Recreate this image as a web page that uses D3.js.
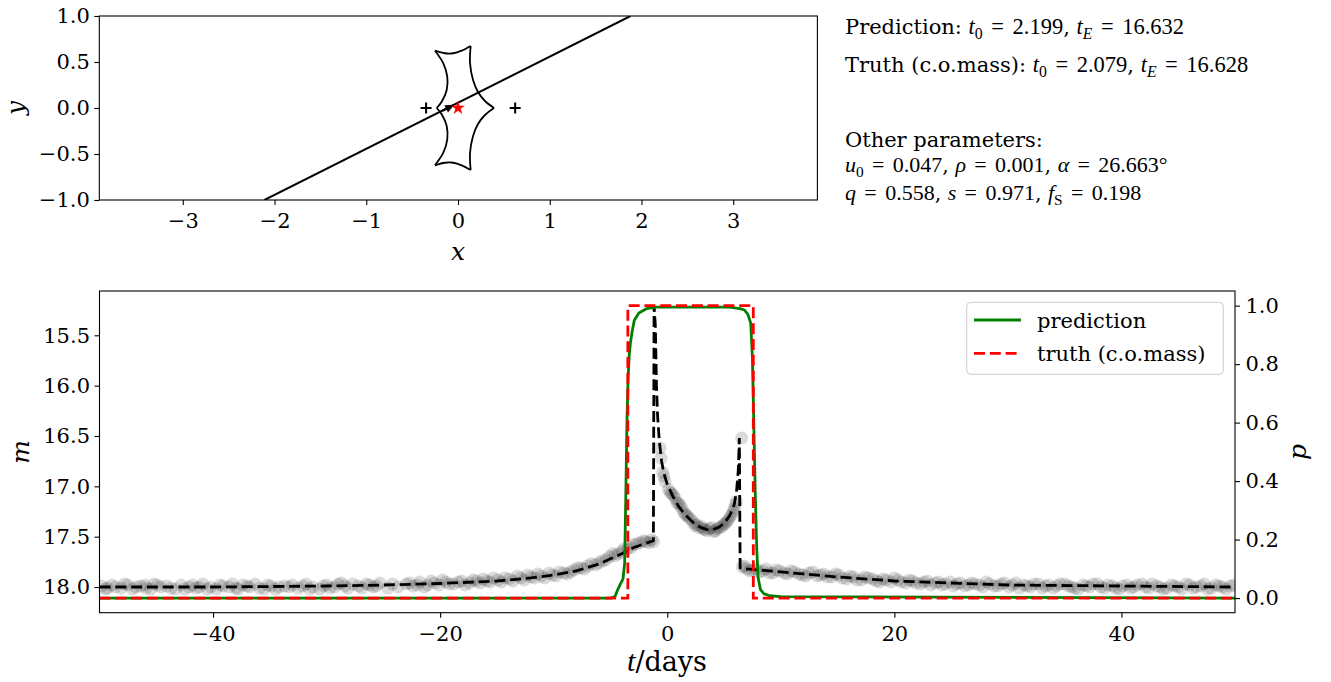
<!DOCTYPE html>
<html>
<head>
<meta charset="utf-8">
<script src="https://cdn.jsdelivr.net/npm/d3@7"></script>
<style>
body { margin: 0; background: #fff; }
svg text { font-family: "DejaVu Serif", serif; fill: #000; }
</style>
</head>
<body>
<svg id="chart" width="1331" height="682"></svg>
<script>
// ---- data ----
// source plane (top panel)
const lensX = [-0.348, 0.623];
const lensY = [0, 0];
const sourceX = [0.0];
const sourceY = [0.0];
const trajX = [-2.11, 1.88];
const trajY = [-1.0, 1.0];
const arrowX = [-0.17, -0.05];
const arrowY = [-0.03, 0.03];
// caustic folds, cusp to cusp
const foldTop = [[-0.251,0.623],[-0.142,0.595],[-0.051,0.595],[0.040,0.623],[0.138,0.674]];
const foldUpRight = [[0.138,0.674],[0.131,0.489],[0.164,0.304],[0.218,0.174],[0.294,0.076],[0.393,0]];
const foldLowRight = [[0.393,0],[0.294,-0.076],[0.218,-0.174],[0.164,-0.304],[0.131,-0.489],[0.138,-0.674]];
const foldBottom = [[0.138,-0.674],[0.040,-0.623],[-0.051,-0.595],[-0.142,-0.595],[-0.251,-0.623]];
const foldLowLeft = [[-0.251,-0.623],[-0.160,-0.486],[-0.117,-0.340],[-0.123,-0.196],[-0.178,-0.068],[-0.232,0]];
const foldUpLeft = [[-0.232,0],[-0.178,0.068],[-0.123,0.196],[-0.117,0.340],[-0.160,0.486],[-0.251,0.623]];

// light curve (bottom panel)
const modelT = [-50,-40,-30,-25,-20,-15,-12,-10,-8,-6,-5,-4,-3,-2,-1.22,-1.16,-1.05,-0.95,-0.85,-0.7,-0.5,-0.3,0,0.5,1,1.5,2,2.5,3,3.5,4,4.5,5,5.5,5.9,6.1,6.25,6.35,6.42,7,8,10,12,15,20,25,30,40,50];
const modelM = [18.0,18.0,17.99,17.98,17.965,17.94,17.91,17.88,17.84,17.77,17.72,17.67,17.61,17.57,17.54,15.21,15.4,16.0,16.3,16.55,16.75,16.87,16.98,17.1,17.2,17.27,17.33,17.38,17.41,17.43,17.43,17.41,17.37,17.29,17.18,17.05,16.85,16.52,17.81,17.82,17.83,17.85,17.87,17.9,17.94,17.96,17.98,17.99,18.0];

const obs = [
  [-49.8,17.99],[-49.3,18.01],[-48.6,18.00],[-47.5,17.98],[-47.1,18.02],[-46.4,17.99],[-45.9,18.01],[-45.2,17.97],
  [-44.6,18.00],[-43.3,18.02],[-42.8,17.98],[-42.1,18.00],[-41.5,18.01],[-40.9,17.97],[-40.2,18.00],[-39.7,18.02],
  [-39.1,17.99],[-38.0,18.01],[-37.4,17.98],[-36.8,18.00],[-36.3,17.97],[-35.5,18.02],[-34.9,17.99],[-34.2,18.00],
  [-33.0,17.98],[-32.5,18.01],[-31.8,17.97],[-31.2,18.00],[-30.6,18.02],[-30.0,17.98],[-29.3,18.00],[-28.7,17.96],
  [-28.1,18.01],[-27.2,17.99],[-26.5,17.97],[-25.9,18.00],[-25.3,17.96],[-24.6,18.01],[-23.0,17.97],[-22.4,17.99],
  [-21.8,17.95],[-21.1,17.98],[-20.5,17.96],[-19.8,17.93],[-19.2,17.97],[-18.4,17.95],[-17.8,17.98],[-17.1,17.93],
  [-16.5,17.96],[-15.9,17.94],[-15.3,17.91],[-14.6,17.95],[-13.9,17.92],[-13.2,17.89],[-12.6,17.93],[-12.0,17.90],
  [-11.4,17.87],[-10.8,17.91],[-10.1,17.88],[-9.5,17.85],[-8.8,17.87],[-8.2,17.83],[-7.6,17.81],[-7.0,17.79],
  [-6.3,17.78],[-5.7,17.74],[-5.1,17.70],[-4.6,17.69],[-4.0,17.65],[-3.5,17.62],[-3.0,17.58],[-2.4,17.56],
  [-1.9,17.55],[-1.4,17.53],[-1.2,17.55],
  [-49.5,18.02],[-48.9,17.98],[-48.1,18.01],[-47.8,17.97],[-46.8,18.00],[-46.0,17.98],[-45.5,18.02],[-44.9,17.98],
  [-44.1,17.99],[-43.7,18.01],[-42.5,18.02],[-41.8,17.98],[-41.2,18.00],[-40.5,18.02],[-39.4,17.98],[-38.6,18.00],
  [-38.3,17.97],[-37.8,18.02],[-37.0,17.99],[-35.9,18.01],[-35.2,17.98],[-34.5,18.02],[-33.7,17.99],[-33.3,18.00],
  [-32.1,17.99],[-31.5,18.02],[-30.3,17.99],[-29.7,18.01],[-29.0,17.97],[-28.4,17.99],[-27.7,17.97],[-26.9,18.01],
  [-26.2,17.98],[-25.6,17.99],[-24.2,17.97],[-23.7,18.00],[-22.7,17.96],[-22.0,17.98],[-21.4,18.00],[-20.8,17.94],
  [-20.1,17.98],[-19.5,17.95],[-18.8,17.97],[-18.1,17.94],[-17.4,17.96],[-16.8,17.94],[-16.2,17.92],[-15.6,17.95],
  [-14.9,17.93],[-14.3,17.91],[-13.6,17.94],[-12.9,17.91],[-12.3,17.88],[-11.7,17.91],[-11.1,17.89],[-10.4,17.86],
  [-9.8,17.89],[-9.1,17.86],[-8.5,17.85],[-7.9,17.81],[-7.3,17.82],[-6.7,17.77],[-6.0,17.76],[-5.4,17.73],
  [-4.8,17.67],[-4.3,17.67],[-3.8,17.62],[-3.2,17.61],[-2.7,17.57],[-2.1,17.54],[-1.6,17.56],
  [-0.65,16.62],[-0.4,16.86],[-0.2,16.95],[0.1,17.03],[0.4,17.07],[0.7,17.12],[1.0,17.17],[1.3,17.22],
  [1.6,17.28],[1.9,17.31],[2.3,17.36],[2.6,17.38],[3.0,17.40],[3.3,17.43],[3.7,17.42],[4.1,17.45],
  [4.4,17.42],[4.8,17.40],[5.1,17.37],[5.4,17.33],[5.7,17.28],[5.9,17.22],[6.1,17.15],[6.55,16.52],
  [-0.55,16.72],[-0.3,16.90],[0.25,17.06],[0.55,17.09],[0.85,17.16],[1.15,17.19],[1.45,17.26],[1.75,17.29],
  [2.1,17.33],[2.45,17.39],[2.8,17.41],[3.15,17.42],[3.5,17.44],[3.9,17.41],[4.25,17.44],[4.6,17.41],
  [4.95,17.38],[5.25,17.35],[5.55,17.30],[5.8,17.25],[6.0,17.18],
  [6.6,17.80],[7.0,17.82],[7.5,17.83],[8.1,17.85],[8.7,17.82],[9.3,17.86],[9.9,17.84],[10.6,17.87],
  [11.2,17.85],[11.9,17.88],[12.5,17.86],[13.2,17.89],[13.8,17.87],[14.5,17.90],[15.1,17.88],[15.8,17.92],
  [16.4,17.90],[17.1,17.93],[17.7,17.91],[18.4,17.94],[19.0,17.92],[19.7,17.95],[20.3,17.93],[21.0,17.96],
  [21.6,17.94],[22.3,17.97],[22.9,17.94],[23.6,17.96],[24.2,17.98],[24.9,17.95],[25.5,17.97],[26.2,17.99],
  [26.8,17.96],[27.5,17.98],[28.1,17.95],[28.8,17.99],[29.4,17.97],[30.1,18.00],[30.7,17.96],[31.4,17.98],
  [32.0,18.00],[32.7,17.97],[33.3,17.99],[34.0,18.01],[34.6,17.97],[35.3,17.99],[35.9,18.01],[36.6,17.98],
  [37.2,18.00],[37.9,17.97],[38.5,18.01],[39.2,17.99],[39.8,18.02],[40.5,17.98],[41.1,18.00],[41.8,17.97],
  [42.4,18.01],[43.1,17.99],[43.7,18.02],[44.4,17.98],[45.0,18.00],[45.7,17.97],[46.3,18.01],[47.0,17.99],
  [47.6,18.02],[48.3,17.98],[48.9,18.00],[49.6,17.99],
  [6.8,17.79],[7.25,17.84],[7.8,17.82],[8.4,17.84],[9.0,17.86],[9.6,17.83],[10.3,17.86],[10.9,17.84],
  [11.6,17.87],[12.2,17.89],[12.8,17.85],[13.5,17.88],[14.1,17.90],[14.8,17.87],[15.4,17.91],[16.1,17.89],
  [16.7,17.93],[17.4,17.90],[18.1,17.92],[18.7,17.95],[19.3,17.93],[20.0,17.91],[20.6,17.95],[21.3,17.93],
  [21.9,17.96],[22.6,17.95],[23.2,17.98],[23.9,17.95],[24.5,17.97],[25.2,17.99],[25.8,17.96],[26.5,17.98],
  [27.1,17.97],[27.8,18.00],[28.4,17.97],[29.1,17.99],[29.7,17.96],[30.4,17.98],[31.0,18.01],[31.7,17.99],
  [32.3,17.97],[33.0,18.01],[33.6,17.98],[34.3,17.99],[35.0,17.97],[35.6,18.00],[36.2,18.02],[36.9,17.99],
  [37.5,17.97],[38.2,18.00],[38.8,17.98],[39.5,18.01],[40.1,17.99],[40.8,18.01],[41.4,17.98],[42.1,18.00],
  [42.7,17.97],[43.4,18.00],[44.0,18.01],[44.7,17.99],[45.3,18.02],[46.0,17.98],[46.6,18.00],[47.3,17.97],
  [47.9,18.01],[48.6,17.99],[49.2,18.02],[49.9,17.98]
];

const predT = [-50,-5.0,-4.6,-4.35,-4.1,-3.9,-3.75,-3.65,-3.55,-3.45,-3.35,-3.25,-3.1,-2.9,-2.5,-1.8,-1.0,2.0,5.5,6.4,6.8,7.1,7.35,7.5,7.62,7.75,7.88,8.0,8.2,8.5,9.0,10.0,50];
const predP = [0,0,0.005,0.03,0.05,0.065,0.12,0.35,0.6,0.75,0.83,0.87,0.91,0.95,0.975,0.99,0.995,0.995,0.995,0.99,0.985,0.97,0.94,0.82,0.6,0.36,0.17,0.07,0.03,0.015,0.008,0.005,0];
const truthT = [-50,-3.47,-3.47,7.58,7.58,50];
const truthP = [0,0,1,1,0,0];

const xTicksTop = [-3,-2,-1,0,1,2,3];
const yTicksTop = [-1,-0.5,0,0.5,1];
const tTicks = [-40,-20,0,20,40];
const mTicks = [15.5,16.0,16.5,17.0,17.5,18.0];
const pTicks = [0,0.2,0.4,0.6,0.8,1.0];

const legendLabels = ["prediction", "truth (c.o.mass)"];

// ---- setup ----
const svg = d3.select("#chart");
const FS = 21;
const fmt1 = d3.format(".1f");

const xTop = d3.scaleLinear().domain([-3.91, 3.91]).range([99.3, 816.7]);
const yTop = d3.scaleLinear().domain([-1, 1]).range([200, 16]);
const tScale = d3.scaleLinear().domain([-50, 50]).range([99.5, 1235]);
const mScale = d3.scaleLinear().domain([15.06, 18.255]).range([291, 612.7]);
const pScale = d3.scaleLinear().domain([-0.05, 1.05]).range([612.7, 291]);

const defs = svg.append("defs");
defs.append("clipPath").attr("id", "clipTop").append("rect")
  .attr("x", 99.3).attr("y", 16).attr("width", 817.4 - 99.3).attr("height", 184);
defs.append("clipPath").attr("id", "clipBot").append("rect")
  .attr("x", 99.5).attr("y", 291).attr("width", 1235 - 99.5).attr("height", 612.7 - 291);
defs.append("marker").attr("id", "ahead")
  .attr("viewBox", "0 0 10 10").attr("refX", 9).attr("refY", 5)
  .attr("markerWidth", 10).attr("markerHeight", 9)
  .attr("markerUnits", "userSpaceOnUse").attr("orient", "auto")
  .append("path").attr("d", "M0,0.5 L10,5 L0,9.5 z").attr("fill", "#000");

function styleAxis(g) {
  g.select(".domain").remove();
  g.selectAll(".tick line").attr("stroke", "#000").attr("stroke-width", 1.1);
  g.selectAll(".tick text").attr("font-family", "DejaVu Serif").attr("font-size", FS).attr("fill", "#000");
}

// ---- top panel ----
const topG = svg.append("g");
const plotTop = topG.append("g").attr("clip-path", "url(#clipTop)");

const lineXY = d3.line().x(d => xTop(d[0])).y(d => yTop(d[1]));
plotTop.append("path")
  .attr("d", lineXY(trajX.map((x, i) => [x, trajY[i]])))
  .attr("fill", "none").attr("stroke", "#000").attr("stroke-width", 2);

const foldLine = d3.line().x(d => xTop(d[0])).y(d => yTop(d[1])).curve(d3.curveCatmullRom.alpha(0.5));
[foldTop, foldUpRight, foldLowRight, foldBottom, foldLowLeft, foldUpLeft].forEach(f => {
  plotTop.append("path").attr("d", foldLine(f))
    .attr("fill", "none").attr("stroke", "#000").attr("stroke-width", 1.8);
});

plotTop.append("line")
  .attr("x1", xTop(arrowX[0])).attr("y1", yTop(arrowY[0]))
  .attr("x2", xTop(arrowX[1])).attr("y2", yTop(arrowY[1]))
  .attr("stroke", "#000").attr("stroke-width", 2).attr("marker-end", "url(#ahead)");

lensX.forEach((x, i) => {
  const cx = xTop(x), cy = yTop(lensY[i]);
  plotTop.append("path")
    .attr("d", `M${cx - 5.5},${cy}H${cx + 5.5}M${cx},${cy - 5.5}V${cy + 5.5}`)
    .attr("stroke", "#000").attr("stroke-width", 2);
});

plotTop.selectAll(".src").data(sourceX).enter().append("path")
  .attr("transform", (d, i) => `translate(${xTop(d)},${yTop(sourceY[i])})`)
  .attr("d", d3.symbol(d3.symbolStar).size(60))
  .attr("fill", "#ff0000");

topG.append("rect").attr("x", 99.3).attr("y", 16).attr("width", 817.4 - 99.3).attr("height", 184)
  .attr("fill", "none").attr("stroke", "#000").attr("stroke-width", 1.1);

topG.append("g").attr("transform", "translate(0,200)")
  .call(d3.axisBottom(xTop).tickValues(xTicksTop).tickSize(5).tickPadding(8).tickFormat(d3.format("d")))
  .call(styleAxis);
topG.append("g").attr("transform", "translate(99.3,0)")
  .call(d3.axisLeft(yTop).tickValues(yTicksTop).tickSize(5).tickPadding(4.5).tickFormat(fmt1))
  .call(styleAxis);

topG.append("text").attr("x", 458).attr("y", 260).attr("text-anchor", "middle")
  .attr("font-family", "Liberation Serif").attr("font-style", "italic").attr("font-size", 25).text("x");
topG.append("text").attr("transform", "translate(24,108) rotate(-90)").attr("text-anchor", "middle")
  .attr("font-family", "Liberation Serif").attr("font-style", "italic").attr("font-size", 25).text("y");

// ---- annotation text ----
// parts: [text, kind]; kinds: txt (plain), it (math italic), m (math upright),
// eq (math "=" with wide spacing), sub / subit (subscript)
function richText(x, y, parts, baseSize, mathSize) {
  const t = svg.append("text").attr("x", x).attr("y", y).attr("font-size", baseSize);
  let shift = 0;
  let padNext = 0;
  parts.forEach(p => {
    const s = t.append("tspan").text(p[0]);
    const kind = p[1];
    let want = 0;
    let dx = padNext;
    padNext = 0;
    if (kind === "txt") {
      s.attr("font-family", "DejaVu Serif").attr("font-size", baseSize);
    } else {
      s.attr("font-family", "Liberation Serif").attr("font-size", mathSize);
      if (kind === "it") s.attr("font-style", "italic");
      if (kind === "eq") { dx += mathSize * 0.38; padNext = mathSize * 0.38; }
      if (kind === "sub" || kind === "subit") {
        s.attr("font-size", mathSize * 0.7);
        if (kind === "subit") s.attr("font-style", "italic");
        want = mathSize * 0.22;
      }
    }
    if (dx) s.attr("dx", dx);
    if (want !== shift) { s.attr("dy", want - shift); shift = want; }
  });
}

richText(845, 34, [["Prediction: ","txt"],["t","it"],["0","sub"],["=","eq"],["2.199","m"],[", ","txt"],["t","it"],["E","subit"],["=","eq"],["16.632","m"]], FS, 22.5);
richText(845, 72, [["Truth (c.o.mass): ","txt"],["t","it"],["0","sub"],["=","eq"],["2.079","m"],[", ","txt"],["t","it"],["E","subit"],["=","eq"],["16.628","m"]], FS, 22.5);
richText(845, 147, [["Other parameters:","txt"]], FS, 22.5);
richText(845, 172, [["u","it"],["0","sub"],["=","eq"],["0.047","m"],[", ","txt"],["\u03c1","it"],["=","eq"],["0.001","m"],[", ","txt"],["\u03b1","it"],["=","eq"],["26.663\u00b0","m"]], 20.5, 22);
richText(845, 200, [["q","it"],["=","eq"],["0.558","m"],[", ","txt"],["s","it"],["=","eq"],["0.971","m"],[", ","txt"],["f","it"],["S","sub"],["=","eq"],["0.198","m"]], 20.5, 22);

// ---- bottom panel ----
const botG = svg.append("g");
const plotBot = botG.append("g").attr("clip-path", "url(#clipBot)");

plotBot.selectAll(".obs").data(obs).enter().append("circle")
  .attr("cx", d => tScale(d[0])).attr("cy", d => mScale(d[1]))
  .attr("r", 6.5).attr("fill", "#000").attr("fill-opacity", 0.14);

const mLine = d3.line().x(d => tScale(d[0])).y(d => mScale(d[1]));
plotBot.append("path")
  .attr("d", mLine(modelT.map((t, i) => [t, modelM[i]])))
  .attr("fill", "none").attr("stroke", "#000").attr("stroke-width", 2.8)
  .attr("stroke-dasharray", "11,4.8");

const pLine = d3.line().x(d => tScale(d[0])).y(d => pScale(d[1]));
plotBot.append("path")
  .attr("d", pLine(predT.map((t, i) => [t, predP[i]])))
  .attr("fill", "none").attr("stroke", "#008000").attr("stroke-width", 2.8).attr("stroke-linejoin", "round");
plotBot.append("path")
  .attr("d", pLine(truthT.map((t, i) => [t, truthP[i]])))
  .attr("fill", "none").attr("stroke", "#ff0000").attr("stroke-width", 2.8)
  .attr("stroke-dasharray", "11,4.8");

botG.append("rect").attr("x", 99.5).attr("y", 291).attr("width", 1235 - 99.5).attr("height", 612.7 - 291)
  .attr("fill", "none").attr("stroke", "#000").attr("stroke-width", 1.1);

botG.append("g").attr("transform", "translate(0,612.7)")
  .call(d3.axisBottom(tScale).tickValues(tTicks).tickSize(5).tickPadding(8).tickFormat(d3.format("d")))
  .call(styleAxis);
botG.append("g").attr("transform", "translate(99.5,0)")
  .call(d3.axisLeft(mScale).tickValues(mTicks).tickSize(5).tickPadding(4.5).tickFormat(fmt1))
  .call(styleAxis);
botG.append("g").attr("transform", "translate(1235,0)")
  .call(d3.axisRight(pScale).tickValues(pTicks).tickSize(5).tickPadding(5.5).tickFormat(fmt1))
  .call(styleAxis);

botG.append("text").attr("transform", "translate(29,452) rotate(-90)").attr("text-anchor", "middle")
  .attr("font-family", "Liberation Serif").attr("font-style", "italic").attr("font-size", 25).text("m");
botG.append("text").attr("transform", "translate(1306,452) rotate(-90)").attr("text-anchor", "middle")
  .attr("font-family", "Liberation Serif").attr("font-style", "italic").attr("font-size", 25).text("p");

const tl = botG.append("text").attr("x", 667).attr("y", 671).attr("text-anchor", "middle").attr("font-size", 27);
tl.append("tspan").attr("font-family", "Liberation Serif").attr("font-style", "italic").attr("font-size", 30).text("t");
tl.append("tspan").attr("font-family", "DejaVu Serif").text("/days");

// legend
const lg = botG.append("g");
lg.append("rect").attr("x", 966.7).attr("y", 302.3).attr("width", 256.6).attr("height", 72).attr("rx", 4)
  .attr("fill", "#fff").attr("fill-opacity", 0.8).attr("stroke", "#cccccc").attr("stroke-width", 1);
const lgStyles = [{ c: "#008000", dash: null }, { c: "#ff0000", dash: "11,4.8" }];
legendLabels.forEach((lab, i) => {
  const y = 320 + i * 33.3;
  const ln = lg.append("line").attr("x1", 974).attr("x2", 1021).attr("y1", y).attr("y2", y)
    .attr("stroke", lgStyles[i].c).attr("stroke-width", 2.8);
  if (lgStyles[i].dash) ln.attr("stroke-dasharray", lgStyles[i].dash);
  lg.append("text").attr("x", 1037).attr("y", y + 8).attr("font-size", FS).text(lab);
});
</script>
</body>
</html>
